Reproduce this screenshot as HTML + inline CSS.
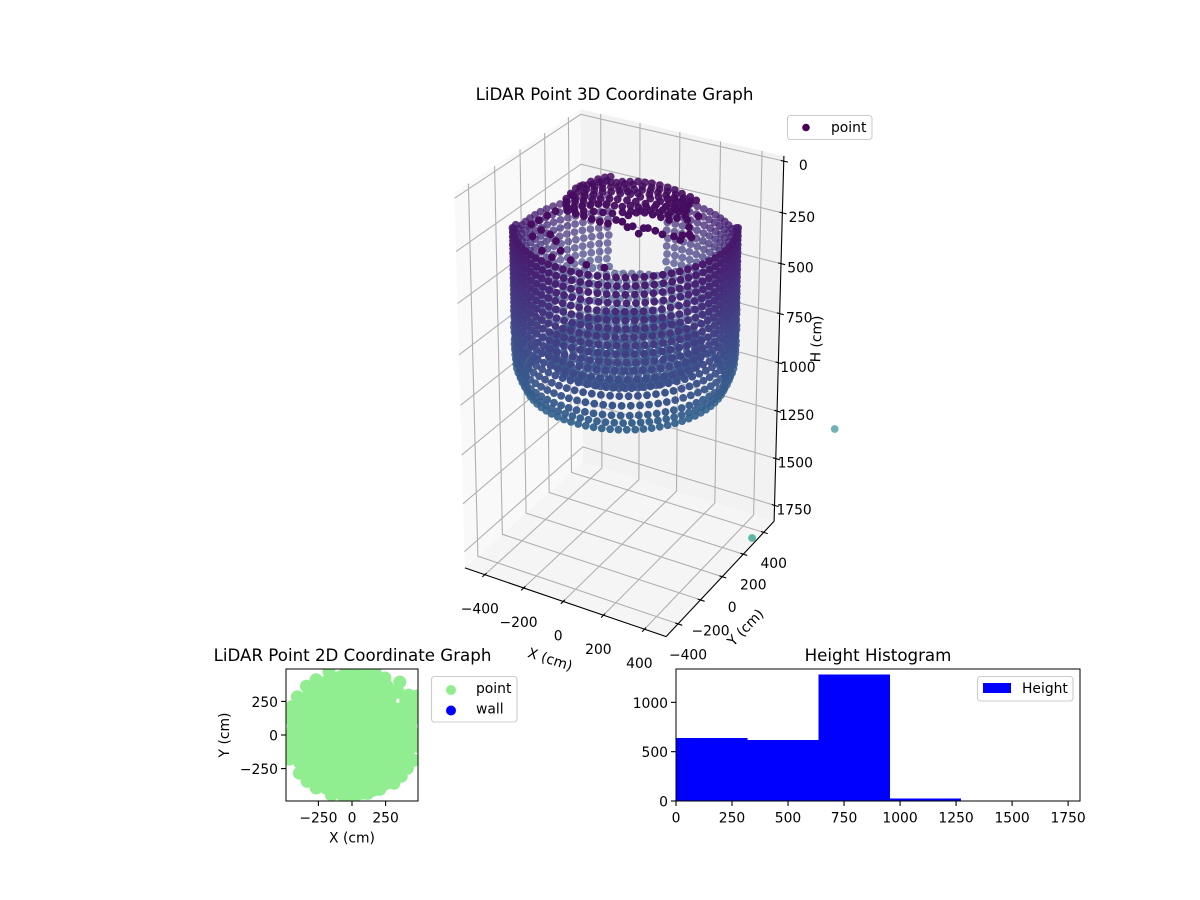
<!DOCTYPE html>
<html>
<head>
<meta charset="utf-8">
<title>LiDAR Point Graphs</title>
<style>
html,body{margin:0;padding:0;background:#fff;}
svg{display:block;font-family:"DejaVu Sans","Liberation Sans",sans-serif;font-size:13.89px;fill:#000;}
text{fill:#000;}
</style>
</head>
<body>
<svg id="fig" xmlns="http://www.w3.org/2000/svg" width="1200" height="900" viewBox="0 0 1200 900">
<rect x="0" y="0" width="1200" height="900" fill="#fff"/>
<defs><clipPath id="planClip"><rect x="286" y="669" width="132" height="132"/></clipPath></defs>
<g id="panes"></g>
<g id="grid3d" fill="none" stroke="#b0b0b0" stroke-width="1.1"></g>
<g id="axes3d" stroke="#000" stroke-width="1.1" fill="none"></g>
<g id="labels3d" text-anchor="middle"></g>
<g id="points3d"></g>
<text x="614.5" y="100" text-anchor="middle" font-size="16.67">LiDAR Point 3D Coordinate Graph</text>
<text x="550" y="660" text-anchor="middle" dominant-baseline="central" transform="rotate(18 550 660)">X (cm)</text>
<text x="746" y="628" text-anchor="middle" dominant-baseline="central" transform="rotate(-46 746 628)">Y (cm)</text>
<text x="817" y="339" text-anchor="middle" dominant-baseline="central" transform="rotate(-88 817 339)">H (cm)</text>
<g>
<rect x="787.5" y="115.5" width="84.5" height="24" rx="3" fill="#fff" stroke="#ccc" stroke-width="1.1"/>
<circle cx="806" cy="127.5" r="3.8" fill="#440154"/>
<text x="831" y="128" dominant-baseline="central">point</text>
</g>

<g>
<rect x="286" y="669" width="132" height="132" fill="#fff"/>
<g id="planPoints" clip-path="url(#planClip)" fill="#90ee90"></g>
<rect x="286" y="669" width="132" height="132" fill="none" stroke="#000" stroke-width="1" shape-rendering="crispEdges"/>
<g id="planTicks"></g>
<text x="352.5" y="661" text-anchor="middle" font-size="16.67">LiDAR Point 2D Coordinate Graph</text>
<text x="352" y="838.5" text-anchor="middle" dominant-baseline="central">X (cm)</text>
<text x="225" y="735" text-anchor="middle" dominant-baseline="central" transform="rotate(-90 225 735)">Y (cm)</text>
<g>
<rect x="431.5" y="676.5" width="85.5" height="45.5" rx="3" fill="#fff" stroke="#ccc" stroke-width="1.1"/>
<circle cx="451" cy="690" r="5" fill="#90ee90"/>
<text x="476" y="689" dominant-baseline="central">point</text>
<circle cx="451" cy="710.5" r="5" fill="#0000ff"/>
<text x="476" y="709.5" dominant-baseline="central">wall</text>
</g>
</g>

<g>
<rect x="676" y="669" width="404" height="132" fill="#fff"/>
<g id="histBars" fill="#0000ff" shape-rendering="crispEdges"></g>
<rect x="676" y="669" width="404" height="132" fill="none" stroke="#000" stroke-width="1" shape-rendering="crispEdges"/>
<g id="histTicks"></g>
<text x="878" y="661" text-anchor="middle" font-size="16.67">Height Histogram</text>
<g>
<rect x="977.5" y="676.5" width="95.5" height="24.5" rx="3" fill="#fff" stroke="#ccc" stroke-width="1.1"/>
<rect x="983" y="683" width="28" height="10" fill="#0000ff"/>
<text x="1022" y="689" dominant-baseline="central">Height</text>
</g>
</g>
</svg>

<script>
// ---- 3D axis data ----
const xTicks3d = [-400, -200, 0, 200, 400];
const yTicks3d = [-400, -200, 0, 200, 400];
const hTicks3d = [0, 250, 500, 750, 1000, 1250, 1500, 1750];
const xLim3d = [-504, 504];
const yLim3d = [-504, 504];
const hLim3d = [-25, 1836];
const colorMaxH = 3100;
const cloudCenterX = 12;
const cloudCenterY = 7;

// ---- wall scan: azimuth of each column (deg), first height in each column ----
const wallAz = [0,4.6,9.2,13.8,18.5,23.1,27.7,32.3,36.9,41.5,46.2,50.8,55.4,60,64.6,69.2,73.8,78.5,83.1,87.7,92.3,96.9,101.5,106.2,110.8,115.4,120,124.6,129.2,133.8,138.5,143.1,147.7,152.3,156.9,161.5,166.2,170.8,175.4,180,184.6,189.2,193.8,198.5,203.1,207.7,212.3,216.9,221.5,226.2,230.8,235.4,240,244.6,249.2,253.8,258.5,263.1,267.7,272.3,276.9,281.5,286.2,290.8,295.4,300,304.6,309.2,313.8,318.5,323.1,327.7,332.3,336.9,341.5,346.2,350.8,355.4];
const wallTop = [190,190,190,190,195,195,200,230,250,270,285,295,295,300,300,300,300,300,300,300,300,300,300,300,300,300,300,300,300,300,300,300,300,300,300,300,300,295,295,290,285,280,270,260,245,225,195,190,190,190,190,190,190,190,190,190,190,190,190,190,190,190,190,190,190,190,190,190,190,190,190,190,190,190,190,190,190,190];
const wallRows = [222,262,302,342,382,422,462,502,542,582,622,662,702,742,782,830,880,925,970];
const wallRowShift = [0,0.4,0,0.5,-0.3,0,0.4,-0.4,0.3,0,0.6,-0.6,1,-1,1.6,-1.9,2.2,-1.2,0.8];
const wallRowRadius = [475,475,475,475,475,475,475,475,475,475,476,474,477,473,476,474,470,455,435];
const doorAz = [97, 128];
const doorH = [0, 700];

// ---- floor rings ----
const floorRadii = [25,65,105,145,185,225,265,300,330];
const floorStride = [13,6,4,3,2,2,2,1,1];
const floorHeights = [832,828,833,827,831,829,833,826,830];

// ---- ceiling returns (sensor frame, cm) and sensor-to-world frame ----
const ceilingH = 100;
const ceilFrame = [1.131, -0.092, -0.176, 1.174];
const ceilX = [-216,-205,-192,-177,-160,-143,-83,-56,-29,-1,26,60,96,130,168,208,241,-200,-213,-193,-176,-158,-141,-120,-77,-43,-12,18,49,82,119,157,194,231,-208,-180,-156,-132,-111,-81,-43,-6,38,78,122,166,206,-184,-150,-126,-102,-79,-48,-17,13,37,70,94,125,162,196,223,243,-154,-117,-80,-43,-6,28,42,69,66,83,111,145,182,219,239,260,106,120,166,163,177,211,247,292,316,336,353,325,280,310,304,-224,-174,-170,-90,-33,-29,38,105,173,-79,-123,-216,-206,-195,-210,-190,-175,-160,-140,-100,-65,-35,5,40,75,110,150,190,225,-195,-170,-145,-125,-100,-60,-25,15,60,100,140,180,220,-195,-165,-140,-115,-90,-60,-30,5,40,80,120,160,200,240,-170,-135,-100,-65,-30,5,35,60,90,120,160,200];
const ceilY = [-34,5,48,81,109,128,121,139,158,168,178,184,186,185,177,173,163,-87,-80,-50,-15,22,57,88,77,83,96,109,122,128,129,130,131,116,-124,-98,-65,-33,5,26,34,53,58,70,74,81,76,-165,-158,-134,-109,-85,-73,-60,-48,-23,-16,7,21,21,29,47,76,-201,-200,-198,-198,-197,-190,-149,-146,-92,-56,-37,-31,-30,-29,1,32,-169,-152,-185,-139,-129,-130,-137,-124,-99,-77,-91,-133,12,-31,62,-369,-439,-380,-503,-521,-462,-497,-491,-469,-415,-388,-324,-276,-229,-10,15,35,65,90,100,110,125,135,150,155,158,155,150,140,-90,-40,-5,30,55,55,65,78,95,100,105,105,95,-145,-125,-100,-70,-45,-25,-10,5,15,25,45,50,55,60,-180,-180,-165,-145,-130,-115,-85,-60,-35,-10,-5,0];

// ---- two far outlier returns ----
const outlierX = [690, 536];
const outlierY = [718, 219];
const outlierH = [1400, 1750];

// ---- 2D plan data ----
const planTicks = [-250, 0, 250];
const planLim = [-491, 491];
const planRings = [40,100,160,220,280,340,395,440];
const planGapAz = [20, 55];
const planEdgeAz = [145,133,123,110,95,80,70,60,48,35,31,15,0,-10,-22,-31,-40,-49,-63,-75,-86,-98,-109,-124,-134,-144,-159,-170,180,165,155];
const planEdgeR = [496,496,490,500,500,500,500,490,531,517,563,500,500,500,500,481,478,476,454,450,449,460,471,476,480,484,501,500,500,500,496];
const planExtraX = [290,345,400,345,283,440,395,470,300,260];
const planExtraY = [215,193,255,317,268,190,180,235,325,365];

// ---- histogram data ----
const histEdges = [0,318,636,954,1272,1590];
const histCounts = [641,620,1280,23,2];
const histXTicks = [0,250,500,750,1000,1250,1500,1750];
const histYTicks = [0,500,1000];
const histXLim = [0,1803];
const histYLim = [0,1338];

// ---- projection ----
const NS = "http://www.w3.org/2000/svg";
const elev = 25 * Math.PI / 180, azim = -60 * Math.PI / 180;
const camDist = 10, zStretch = 1.5, screenX0 = 622, screenXS = 2335, screenY0 = 365, screenYS = 2720;
const camN = [Math.cos(elev)*Math.cos(azim), Math.cos(elev)*Math.sin(azim), Math.sin(elev)];
const camU = [-Math.sin(azim), Math.cos(azim), 0];
const camV = [camN[1]*camU[2]-camN[2]*camU[1], camN[2]*camU[0]-camN[0]*camU[2], camN[0]*camU[1]-camN[1]*camU[0]];
function world(x, y, h) {
  return [(x-(xLim3d[0]+xLim3d[1])/2)/(xLim3d[1]-xLim3d[0]),
          (y-(yLim3d[0]+yLim3d[1])/2)/(yLim3d[1]-yLim3d[0]),
          (0.5-(h-hLim3d[0])/(hLim3d[1]-hLim3d[0]))*zStretch];
}
function dot(a, b) { return a[0]*b[0]+a[1]*b[1]+a[2]*b[2]; }
function project(x, y, h) {
  const q = world(x, y, h);
  const den = camDist - dot(camN, q);
  return [screenX0 + screenXS*dot(camU, q)/den, screenY0 - screenYS*dot(camV, q)/den];
}
function depth(x, y, h) { return dot(camN, world(x, y, h)); }
const viridisStops = [[68,1,84],[72,36,117],[65,68,135],[53,95,141],[42,120,142],[33,145,140],[34,168,132],[68,191,112],[122,209,81],[189,223,38],[253,231,37]];
function viridis(t) {
  t = Math.max(0, Math.min(1, t)) * 10;
  const i = Math.min(9, Math.floor(t)), f = t - i, a = viridisStops[i], b = viridisStops[i+1];
  return "rgb(" + Math.round(a[0]+(b[0]-a[0])*f) + "," + Math.round(a[1]+(b[1]-a[1])*f) + "," + Math.round(a[2]+(b[2]-a[2])*f) + ")";
}
function polyPath(pts) { return pts.map(function(p, i){ return (i?"L":"M") + p[0].toFixed(1) + " " + p[1].toFixed(1); }).join(" ") ; }
function rad(d) { return d*Math.PI/180; }

const xA = xLim3d[0], xB = xLim3d[1], yA = yLim3d[0], yB = yLim3d[1], hA = hLim3d[0], hB = hLim3d[1];

// panes
const panes = document.getElementById("panes");
const paneDefs = [
  ["left-pane", "#f9f9f9", [project(xA,yA,hB),project(xA,yB,hB),project(xA,yB,hA),project(xA,yA,hA)]],
  ["back-pane", "#f2f2f2", [project(xA,yB,hB),project(xB,yB,hB),project(xB,yB,hA),project(xA,yB,hA)]],
  ["floor-pane", "#f5f5f5", [project(xA,yA,hB),project(xB,yA,hB),project(xB,yB,hB),project(xA,yB,hB)]]
];
paneDefs.forEach(function(d) {
  const el = document.createElementNS(NS, "path");
  
  
  el.setAttribute("d", polyPath(d[2]) + " Z");
  el.setAttribute("fill", d[1]);
  panes.appendChild(el);
});

// grid lines
const grid3d = document.getElementById("grid3d");
function addGrid(pts, name) {
  const el = document.createElementNS(NS, "path");
  
  
  el.setAttribute("d", polyPath(pts));
  grid3d.appendChild(el);
}
xTicks3d.forEach(function(v){ addGrid([project(v,yA,hB),project(v,yB,hB),project(v,yB,hA)], "x-gridline"); });
yTicks3d.forEach(function(v){ addGrid([project(xB,v,hB),project(xA,v,hB),project(xA,v,hA)], "y-gridline"); });
hTicks3d.forEach(function(v){ addGrid([project(xA,yA,v),project(xA,yB,v),project(xB,yB,v)], "h-gridline"); });

// axes and ticks
const axes3d = document.getElementById("axes3d");
function addAxisLine(pts, name) {
  const el = document.createElementNS(NS, "path");
  
  
  el.setAttribute("d", polyPath(pts));
  axes3d.appendChild(el);
}
addAxisLine([project(xA,yA,hB),project(xB,yA,hB)], "x-axis-line");
addAxisLine([project(xB,yA,hB),project(xB,yB,hB)], "y-axis-line");
addAxisLine([project(xB,yB,hB),project(xB,yB,hA)], "h-axis-line");
const labels3d = document.getElementById("labels3d");
function addLabel3d(p, dx, dy, txt, name) {
  const el = document.createElementNS(NS, "text");
  
  
  el.setAttribute("x", (p[0]+dx).toFixed(1));
  el.setAttribute("y", (p[1]+dy).toFixed(1));
  el.setAttribute("dominant-baseline", "central");
  el.textContent = String(txt).replace("-", "\u2212");
  labels3d.appendChild(el);
}
xTicks3d.forEach(function(v){
  addAxisLine([project(v,yA+14,hB),project(v,yA-20,hB)], "x-tick");
  addLabel3d(project(v,yA,hB), -5, 35, v, "x-tick-label");
});
yTicks3d.forEach(function(v){
  addAxisLine([project(xB-14,v,hB),project(xB+20,v,hB)], "y-tick");
  addLabel3d(project(xB,v,hB), 10, 31.5, v, "y-tick-label");
});
hTicks3d.forEach(function(v){
  addAxisLine([project(xB-14,yB,v),project(xB+20,yB,v)], "h-tick");
  addLabel3d(project(xB,yB,v), 19.5, 5, v, "h-tick-label");
});

// assemble 3D points from arrays
const cloud = [];
wallAz.forEach(function(az, c) {
  wallRows.forEach(function(h, r) {
    if (h < wallTop[c]) return;
    if (az > doorAz[0] && az < doorAz[1] && h > doorH[0] && h < doorH[1]) return;
    const a = rad(az + wallRowShift[r]), R = wallRowRadius[r];
    cloud.push([cloudCenterX + R*Math.cos(a), cloudCenterY + R*Math.sin(a), h]);
  });
});
floorRadii.forEach(function(R, r) {
  wallAz.forEach(function(az, i) {
    if (i % floorStride[r]) return;
    cloud.push([cloudCenterX + R*Math.cos(rad(az)), cloudCenterY + R*Math.sin(rad(az)), floorHeights[r]]);
  });
});
ceilX.forEach(function(x, i) {
  const sx = x, sy = ceilY[i];
  cloud.push([cloudCenterX + ceilFrame[0]*sx + ceilFrame[1]*sy, cloudCenterY + ceilFrame[2]*sx + ceilFrame[3]*sy, ceilingH]);
});
outlierX.forEach(function(x, i) { cloud.push([x, outlierY[i], outlierH[i]]); });

const depths = cloud.map(function(p){ return depth(p[0],p[1],p[2]); });
const dMin = Math.min.apply(null, depths), dMax = Math.max.apply(null, depths);
const order = cloud.map(function(p,i){ return i; }).sort(function(a,b){ return depths[a]-depths[b]; });
const points3d = document.getElementById("points3d");
order.forEach(function(i) {
  const p = cloud[i], s = project(p[0],p[1],p[2]);
  const el = document.createElementNS(NS, "circle");
  
  
  el.setAttribute("cx", s[0].toFixed(1));
  el.setAttribute("cy", s[1].toFixed(1));
  el.setAttribute("r", "3.9");
  el.setAttribute("fill", viridis(p[2]/colorMaxH));
  el.setAttribute("fill-opacity", Math.min(1, 0.65 + 0.5*(depths[i]-dMin)/(dMax-dMin)).toFixed(2));
  points3d.appendChild(el);
});

// plan chart
function planX(v) { return 286 + (v-planLim[0])/(planLim[1]-planLim[0])*132; }
function planY(v) { return 801 - (v-planLim[0])/(planLim[1]-planLim[0])*132; }
const planPoints = document.getElementById("planPoints");
function addPlanPoint(x, y) {
  const el = document.createElementNS(NS, "circle");
  
  
  el.setAttribute("cx", planX(x).toFixed(1));
  el.setAttribute("cy", planY(y).toFixed(1));
  el.setAttribute("r", "6.5");
  planPoints.appendChild(el);
}
planRings.forEach(function(R) {
  wallAz.forEach(function(az) {
    if (R > 350 && az > planGapAz[0] && az < planGapAz[1]) return;
    addPlanPoint(R*Math.cos(rad(az)), R*Math.sin(rad(az)));
  });
});
planEdgeAz.forEach(function(az, i) { addPlanPoint(planEdgeR[i]*Math.cos(rad(az)), planEdgeR[i]*Math.sin(rad(az))); });
planExtraX.forEach(function(x, i) { addPlanPoint(x, planExtraY[i]); });

function addTick(parent, x1, y1, x2, y2, name) {
  const el = document.createElementNS(NS, "line");
  
  
  el.setAttribute("x1", x1); el.setAttribute("y1", y1);
  el.setAttribute("x2", x2); el.setAttribute("y2", y2);
  el.setAttribute("stroke", "#000");
  el.setAttribute("stroke-width", "1.1");
  parent.appendChild(el);
}
function addTickText(parent, x, y, anchor, txt, name) {
  const el = document.createElementNS(NS, "text");
  
  
  el.setAttribute("x", x);
  el.setAttribute("y", y);
  el.setAttribute("text-anchor", anchor);
  el.setAttribute("dominant-baseline", "central");
  el.textContent = String(txt).replace("-", "\u2212");
  parent.appendChild(el);
}
const planTickGroup = document.getElementById("planTicks");
planTicks.forEach(function(v) {
  addTick(planTickGroup, planX(v), 801, planX(v), 806, "plan-x-tick");
  addTickText(planTickGroup, planX(v), 818.5, "middle", v, "plan-x-tick-label");
  addTick(planTickGroup, 286, planY(v), 281, planY(v), "plan-y-tick");
  addTickText(planTickGroup, 278, planY(v)+1.5, "end", v, "plan-y-tick-label");
});

// histogram
function histX(v) { return 676 + (v-histXLim[0])/(histXLim[1]-histXLim[0])*404; }
function histY(v) { return 801 - (v-histYLim[0])/(histYLim[1]-histYLim[0])*132; }
const histBars = document.getElementById("histBars");
histCounts.forEach(function(c, i) {
  const el = document.createElementNS(NS, "rect");
  
  
  el.setAttribute("x", histX(histEdges[i]).toFixed(2));
  el.setAttribute("y", histY(c).toFixed(2));
  el.setAttribute("width", (histX(histEdges[i+1])-histX(histEdges[i])).toFixed(2));
  el.setAttribute("height", (histY(0)-histY(c)).toFixed(2));
  histBars.appendChild(el);
});
const histTickGroup = document.getElementById("histTicks");
histXTicks.forEach(function(v) {
  addTick(histTickGroup, histX(v), 801, histX(v), 806, "histogram-x-tick");
  addTickText(histTickGroup, histX(v), 818.5, "middle", v, "histogram-x-tick-label");
});
histYTicks.forEach(function(v) {
  addTick(histTickGroup, 676, histY(v), 671, histY(v), "histogram-y-tick");
  addTickText(histTickGroup, 668, histY(v)+1.5, "end", v, "histogram-y-tick-label");
});
</script>
</body>
</html>
